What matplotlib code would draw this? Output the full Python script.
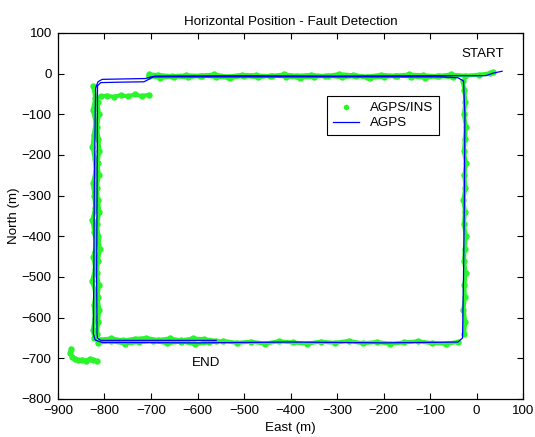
import matplotlib
matplotlib.use("Agg")
import matplotlib.pyplot as plt
import matplotlib.lines as mlines
import numpy as np

plt.rcParams["font.family"] = ["Liberation Sans", "DejaVu Sans"]
plt.rcParams["font.size"] = 9.6

GREEN = "#2af52a"
BLUE = "#0000ff"

# AGPS solution (two laps, east / north in metres)
agps_east = [55, 35, 20, -100, -300, -500, -690, -700, -712, -760,
             -805, -814, -819, -820, -822, -823, -824, -820, -805, -600,
             -400, -200, -40, -30, -28, -26, -25, -28, -40, -80,
             -300, -500, -695, -705, -715, -770, -808, -815, -816, -817,
             -816, -815, -808, -700, -560]
agps_north = [6, 1, -5, -5, -6, -5, -6, -8, -12, -13,
              -14, -20, -35, -100, -300, -500, -640, -655, -661, -662,
              -660, -662, -660, -650, -500, -300, -100, -18, -10, -8,
              -8, -8, -8, -14, -20, -21, -22, -30, -300, -500,
              -640, -650, -656, -656, -656]

# AGPS/INS solution, by segment (gaps where the solution was rejected)
top1_e = [35, 28, 5, -25, -55, -85, -115, -145, -175, -205, -235,
          -265, -295, -325, -355, -385, -415, -445, -475, -505, -535,
          -565, -595, -625, -655, -685, -705]
top1_n = [3, 1, -3, -5, -2, -6, -4, -2, -5, -3, -7,
          -4, -1, -6, -3, -5, -2, -6, -4, -3, -7,
          -2, -5, -4, -6, -3, -2]
left1_e = [-824, -820, -825, -819, -823, -826, -821, -819, -825, -822,
           -820, -826, -822, -818, -824, -820, -827, -819, -823, -821,
           -825, -822]
left1_n = [-30, -60, -90, -120, -150, -180, -210, -240, -270, -300,
           -330, -360, -390, -420, -450, -480, -510, -540, -570, -600,
           -630, -650]
bot1_e = [-815, -785, -755, -725, -695, -665, -635, -605, -575, -545,
          -515, -485, -455, -425, -395, -365, -335, -305, -275, -245,
          -215, -185, -155, -125, -95, -65, -40]
bot1_n = [-662, -658, -664, -660, -657, -663, -659, -665, -661, -657,
          -662, -659, -664, -658, -661, -664, -659, -662, -657, -663,
          -660, -664, -661, -658, -663, -664, -660]
right1_e = [-27, -24, -28, -25, -26, -23, -27, -25, -23, -27,
            -25, -28, -24, -26, -23, -27, -25, -23, -27, -24,
            -26, -30]
right1_n = [-640, -610, -580, -550, -520, -490, -460, -430, -400, -370,
            -340, -310, -280, -250, -220, -190, -160, -130, -100, -70,
            -40, -18]
top2_e = [-50, -80, -110, -140, -170, -200, -230, -260, -290, -320,
          -350, -380, -410, -440, -470, -500, -530, -560, -590, -620,
          -650, -680, -705]
top2_n = [-9, -6, -10, -7, -5, -8, -10, -6, -9, -5,
          -8, -10, -7, -5, -9, -6, -10, -8, -5, -9,
          -7, -10, -6]
spur1_e = [-705, -720, -735, -750, -765, -780, -795, -808, -818]
spur1_n = [-52, -55, -51, -56, -53, -57, -54, -56, -60]
left2_e = [-815, -812, -816, -813, -811, -815, -812, -817, -814, -811,
           -816, -813, -810, -814, -817, -812, -815, -811, -814, -816]
left2_n = [-70, -100, -130, -160, -190, -220, -250, -280, -310, -340,
           -370, -400, -430, -460, -490, -520, -550, -580, -610, -640]
bot2_e = [-810, -785, -760, -735, -710, -685, -660, -635, -610, -585, -560]
bot2_n = [-654, -651, -656, -652, -650, -655, -651, -656, -651, -653, -657]
spur2_e = [-872, -874, -870, -864, -856, -848, -840, -832, -824, -816]
spur2_n = [-676, -686, -696, -702, -705, -703, -706, -701, -704, -707]

ins_segments = [(top1_e, top1_n), (left1_e, left1_n), (bot1_e, bot1_n),
                (right1_e, right1_n), (top2_e, top2_n), (spur1_e, spur1_n),
                (left2_e, left2_n), (bot2_e, bot2_n), (spur2_e, spur2_n)]

fig = plt.figure(figsize=(5.35, 4.37), dpi=100)
fig.patch.set_facecolor("white")
ax = fig.add_axes([0.1084, 0.087, 0.8692, 0.8375])

for e, n in ins_segments:
    ax.plot(e, n, color=GREEN, lw=2.9, marker="o", markersize=4.6,
            markeredgewidth=0, solid_capstyle="round", zorder=2)

ax.plot(agps_east, agps_north, color=BLUE, lw=0.9, zorder=3)

ax.text(-33, 49, "START", ha="left", va="center")
ax.text(-612, -712, "END", ha="left", va="center")

ax.set_xlim(-900, 100)
ax.set_ylim(-800, 100)
ax.set_xticks(np.arange(-900, 101, 100))
ax.set_yticks(np.arange(-800, 101, 100))
ax.tick_params(direction="in", length=4, width=0.8, top=True, right=True,
               labelsize=9.6)
ax.tick_params(axis="x", pad=4)
ax.tick_params(axis="y", pad=4.5)
for s in ax.spines.values():
    s.set_linewidth(0.9)

ax.set_title("Horizontal Position - Fault Detection", fontsize=9.6, pad=6)
ax.set_xlabel("East (m)", fontsize=9.6, labelpad=4)
ax.set_ylabel("North (m)", fontsize=9.6, labelpad=1)

handles = [
    mlines.Line2D([], [], color=GREEN, marker="o", markersize=4.0,
                  markeredgewidth=0, linestyle="none", label="AGPS/INS"),
    mlines.Line2D([], [], color=BLUE, lw=0.9, label="AGPS"),
]
leg = ax.legend(handles=handles, loc="upper left", bbox_to_anchor=(0.578, 0.828),
                fancybox=False, framealpha=1, edgecolor="black",
                borderpad=0.45, handlelength=2.0, handletextpad=0.8,
                labelspacing=0.2, borderaxespad=0)
leg.get_frame().set_linewidth(0.8)

fig.savefig("out.png", dpi=100, facecolor="white")
